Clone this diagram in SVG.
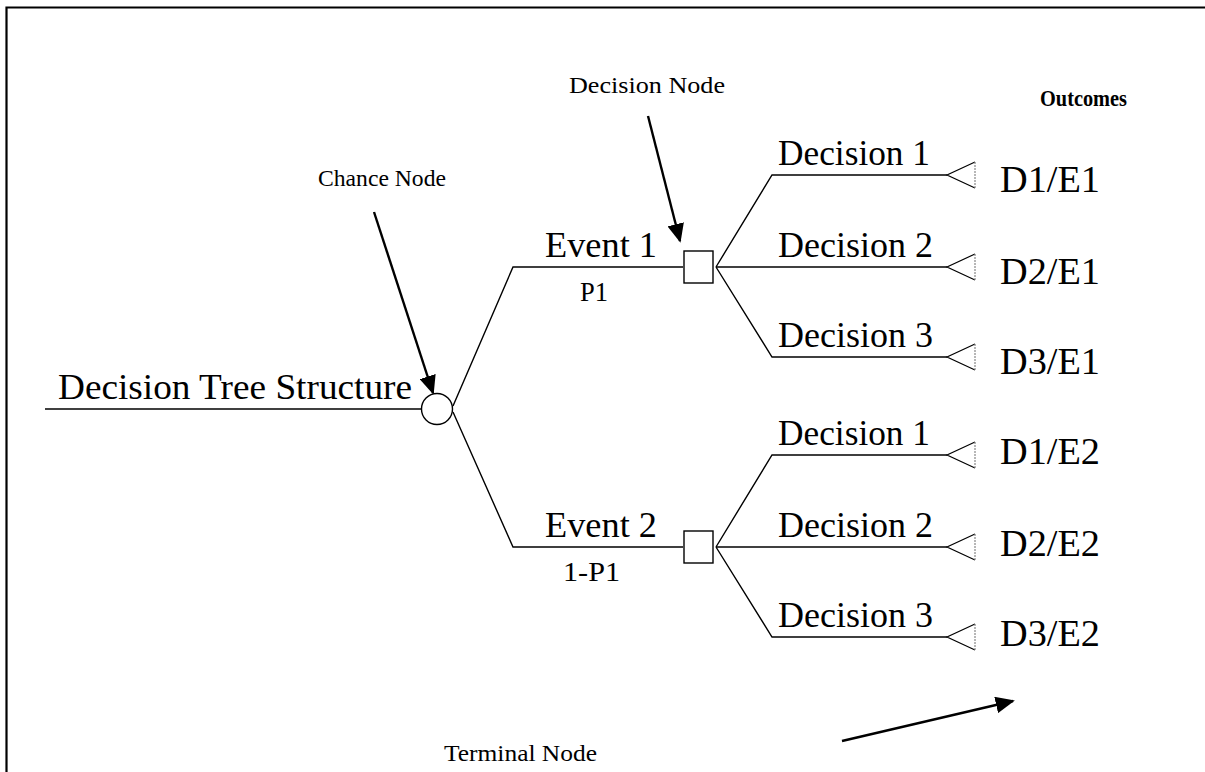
<svg xmlns="http://www.w3.org/2000/svg" width="1205" height="772" viewBox="0 0 1205 772">
  <style>
    .edge { fill: none; stroke: #000; stroke-width: 1.4; }
    .shape { fill: #fff; stroke: #000; stroke-width: 1.4; }
    .tri { fill: #fff; stroke: #000; stroke-width: 1.2; }
    .triback { stroke: #888; stroke-width: 1.2; stroke-dasharray: 2 1; }
    .big { font-family: "Liberation Serif", serif; font-size: 36px; fill: #000; }
    .out { font-family: "Liberation Serif", serif; font-size: 37px; fill: #000; }
    .mid { font-family: "Liberation Serif", serif; font-size: 28px; fill: #000; }
    .small { font-family: "Liberation Serif", serif; font-size: 23px; fill: #000; }
    .ptr { stroke: #000; stroke-width: 2.4; fill: none; }
  </style>
  <defs>
    <marker id="head" viewBox="0 0 10 10" refX="9" refY="5" markerWidth="8" markerHeight="7" orient="auto" markerUnits="strokeWidth" preserveAspectRatio="none">
      <path d="M0,0 L10,5 L0,10 z" fill="#000"/>
    </marker>
  </defs>

  <rect x="0" y="0" width="1205" height="772" fill="#fff"/>
  <!-- frame -->
  <path d="M6.5,772 V7.5 H1205" fill="none" stroke="#000" stroke-width="2.2"/>

  <!-- connectors -->
  <g id="connectors">
    <path class="edge" d="M45,409 H422"/>
    <path class="edge" d="M453,406 L513,267 H683"/>
    <path class="edge" d="M453,412 L513,547 H683"/>
    <path class="edge" d="M716,267 L772,175 H947"/>
    <path class="edge" d="M716,267 H947"/>
    <path class="edge" d="M716,267 L772,357 H947"/>
    <path class="edge" d="M716,547 L772,455 H947"/>
    <path class="edge" d="M716,547 H947"/>
    <path class="edge" d="M716,547 L772,637 H947"/>
    <!-- callout pointers -->
    <line class="ptr" x1="374" y1="212" x2="433" y2="393" marker-end="url(#head)"/>
    <line class="ptr" x1="648" y1="116" x2="680" y2="241" marker-end="url(#head)"/>
    <line class="ptr" x1="842" y1="741" x2="1013" y2="701" marker-end="url(#head)"/>
  </g>

  <!-- root label -->
  <g id="root">
    <text class="big" x="58" y="399" textLength="354" lengthAdjust="spacingAndGlyphs">Decision Tree Structure</text>
  </g>

  <!-- chance node -->
  <g id="chance">
    <circle class="shape" cx="437" cy="409" r="15.5"/>
  </g>

  <!-- event branches -->
  <g id="event1">
    <text class="big" x="545" y="257" textLength="112" lengthAdjust="spacingAndGlyphs">Event 1</text>
    <text class="mid" x="580" y="301" textLength="28" lengthAdjust="spacingAndGlyphs">P1</text>
  </g>
  <g id="event2">
    <text class="big" x="545" y="537" textLength="112" lengthAdjust="spacingAndGlyphs">Event 2</text>
    <text class="mid" x="563" y="581" textLength="57" lengthAdjust="spacingAndGlyphs">1-P1</text>
  </g>

  <!-- decision nodes -->
  <g id="decision-e1">
    <rect class="shape" x="684" y="251" width="29" height="32"/>
  </g>
  <g id="decision-e2">
    <rect class="shape" x="684" y="531" width="29" height="32"/>
  </g>

  <!-- decision labels -->
  <g id="decision-labels">
    <text class="big" x="778" y="165" textLength="152" lengthAdjust="spacingAndGlyphs">Decision 1</text>
    <text class="big" x="778" y="257" textLength="155" lengthAdjust="spacingAndGlyphs">Decision 2</text>
    <text class="big" x="778" y="347" textLength="155" lengthAdjust="spacingAndGlyphs">Decision 3</text>
    <text class="big" x="778" y="445" textLength="152" lengthAdjust="spacingAndGlyphs">Decision 1</text>
    <text class="big" x="778" y="537" textLength="155" lengthAdjust="spacingAndGlyphs">Decision 2</text>
    <text class="big" x="778" y="627" textLength="155" lengthAdjust="spacingAndGlyphs">Decision 3</text>
  </g>

  <!-- terminal nodes -->
  <g id="terminal-d1e1"><path class="tri" d="M975,162 L947,175 L975,188"/><line class="triback" x1="975" y1="162" x2="975" y2="188"/><text class="out" x="1000" y="192" textLength="100" lengthAdjust="spacingAndGlyphs">D1/E1</text></g>
  <g id="terminal-d2e1"><path class="tri" d="M975,254 L947,267 L975,280"/><line class="triback" x1="975" y1="254" x2="975" y2="280"/><text class="out" x="1000" y="284" textLength="100" lengthAdjust="spacingAndGlyphs">D2/E1</text></g>
  <g id="terminal-d3e1"><path class="tri" d="M975,344 L947,357 L975,370"/><line class="triback" x1="975" y1="344" x2="975" y2="370"/><text class="out" x="1000" y="374" textLength="100" lengthAdjust="spacingAndGlyphs">D3/E1</text></g>
  <g id="terminal-d1e2"><path class="tri" d="M975,442 L947,455 L975,468"/><line class="triback" x1="975" y1="442" x2="975" y2="468"/><text class="out" x="1000" y="464" textLength="100" lengthAdjust="spacingAndGlyphs">D1/E2</text></g>
  <g id="terminal-d2e2"><path class="tri" d="M975,534 L947,547 L975,560"/><line class="triback" x1="975" y1="534" x2="975" y2="560"/><text class="out" x="1000" y="556" textLength="100" lengthAdjust="spacingAndGlyphs">D2/E2</text></g>
  <g id="terminal-d3e2"><path class="tri" d="M975,624 L947,637 L975,650"/><line class="triback" x1="975" y1="624" x2="975" y2="650"/><text class="out" x="1000" y="646" textLength="100" lengthAdjust="spacingAndGlyphs">D3/E2</text></g>

  <!-- annotations -->
  <g id="annotations">
    <text class="small" x="318" y="186" textLength="128" lengthAdjust="spacingAndGlyphs">Chance Node</text>
    <text class="small" x="569" y="93" textLength="156" lengthAdjust="spacingAndGlyphs">Decision Node</text>
    <text class="small" x="1040" y="106" font-weight="bold" textLength="87" lengthAdjust="spacingAndGlyphs">Outcomes</text>
    <text class="small" x="444" y="761" textLength="153" lengthAdjust="spacingAndGlyphs">Terminal Node</text>
  </g>
</svg>
